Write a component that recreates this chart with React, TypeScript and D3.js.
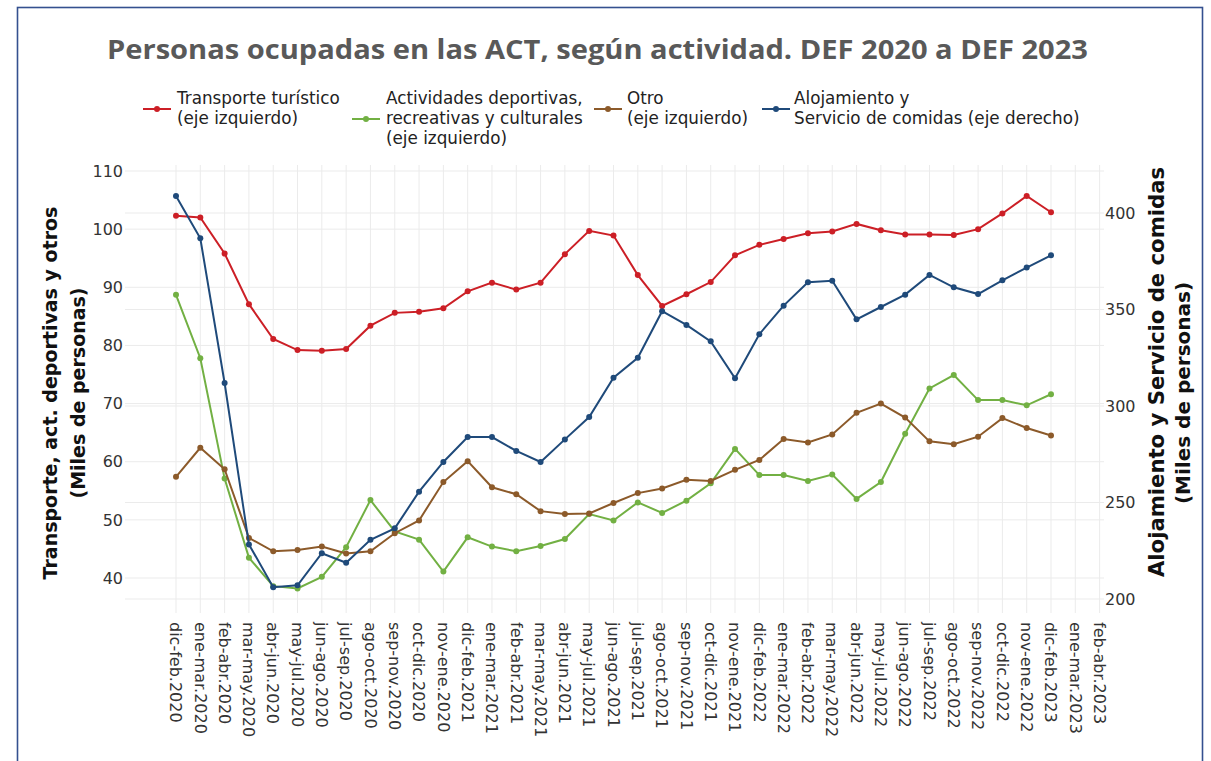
import React from "react";
import * as d3 from "d3";

const categories = [
  "dic-feb.2020","ene-mar.2020","feb-abr.2020","mar-may.2020","abr-jun.2020","may-jul.2020","jun-ago.2020","jul-sep.2020","ago-oct.2020","sep-nov.2020","oct-dic.2020","nov-ene.2020",
  "dic-feb.2021","ene-mar.2021","feb-abr.2021","mar-may.2021","abr-jun.2021","may-jul.2021","jun-ago.2021","jul-sep.2021","ago-oct.2021","sep-nov.2021","oct-dic.2021","nov-ene.2021",
  "dic-feb.2022","ene-mar.2022","feb-abr.2022","mar-may.2022","abr-jun.2022","may-jul.2022","jun-ago.2022","jul-sep.2022","ago-oct.2022","sep-nov.2022","oct-dic.2022","nov-ene.2022",
  "dic-feb.2023","ene-mar.2023","feb-abr.2023",
];

const transporte = [102.3, 102.0, 95.8, 87.1, 81.1, 79.2, 79.1, 79.4, 83.4, 85.6, 85.8, 86.4, 89.3, 90.8, 89.6, 90.8, 95.7, 99.7, 98.9, 92.1, 86.8, 88.8, 90.9, 95.5, 97.3, 98.3, 99.3, 99.6, 100.9, 99.8, 99.1, 99.1, 99.0, 100.0, 102.7, 105.7, 102.9];
const deportivas = [88.7, 77.8, 57.1, 43.5, 38.6, 38.2, 40.2, 45.3, 53.4, 48.0, 46.6, 41.1, 47.0, 45.4, 44.6, 45.5, 46.7, 51.0, 49.9, 53.0, 51.2, 53.3, 56.3, 62.2, 57.7, 57.7, 56.7, 57.8, 53.6, 56.5, 64.8, 72.6, 74.9, 70.6, 70.6, 69.7, 71.6];
const otro = [57.4, 62.4, 58.7, 46.9, 44.6, 44.8, 45.4, 44.2, 44.6, 47.7, 49.9, 56.5, 60.1, 55.6, 54.4, 51.5, 51.0, 51.1, 52.9, 54.6, 55.4, 56.9, 56.7, 58.6, 60.3, 63.9, 63.3, 64.7, 68.4, 70.0, 67.6, 63.5, 63.0, 64.3, 67.5, 65.8, 64.5];
const alojamiento = [408.8, 386.9, 311.9, 228.3, 206.1, 207.1, 223.7, 218.8, 230.7, 236.6, 255.6, 271.0, 283.9, 283.9, 276.7, 271.0, 282.7, 294.3, 314.7, 325.0, 349.1, 342.0, 333.5, 314.4, 337.2, 352.0, 364.1, 364.9, 344.9, 351.3, 357.7, 367.9, 361.5, 358.0, 365.1, 371.7, 378.1];

const leftTicks = [40, 50, 60, 70, 80, 90, 100, 110];
const rightTicks = [200, 250, 300, 350, 400];

const seriesNames = [
  ["Transporte turístico", "(eje izquierdo)"],
  ["Actividades deportivas,", "recreativas y culturales", "(eje izquierdo)"],
  ["Otro", "(eje izquierdo)"],
  ["Alojamiento y", "Servicio de comidas (eje derecho)"],
];
const colors = ["#cc1f26", "#72b043", "#8c5a2a", "#1f4a7a"];

const W = 1211;
const H = 761;
const plotLeft = 125;
const plotRight = 1104;
const plotTop = 165;
const plotBottom = 613;

const FONT = "'DejaVu Sans', Verdana, sans-serif";

export default function App() {
  const x = d3.scaleLinear().domain([0, 36]).range([176, 1051]);
  const yL = d3.scaleLinear().domain([40, 110]).range([578, 171]);
  const yR = d3.scaleLinear().domain([200, 400]).range([599, 213]);

  const series = [
    { data: transporte, y: yL },
    { data: deportivas, y: yL },
    { data: otro, y: yL },
    { data: alojamiento, y: yR },
  ];

  const legendX = [143, 352, 594, 762];
  const legendTextX = [177, 386, 627, 794];

  return (
    <div style={{ position: "fixed", left: 0, top: 0, width: W, height: H, background: "#fff" }}>
      <svg width={W} height={H} style={{ display: "block" }}>
        <rect x={0} y={0} width={W} height={H} fill="#fff" />
        <rect x={17.5} y={7.5} width={1185} height={800} fill="none" stroke="#34508f" strokeWidth={1.6} />

        <text x={597.5} y={59} textAnchor="middle" fontFamily="'Open Sans', sans-serif" fontWeight={700}
          fontSize={26} fill="#595959" textLength={981} lengthAdjust="spacingAndGlyphs">
          Personas ocupadas en las ACT, según actividad. DEF 2020 a DEF 2023
        </text>

        {/* legend */}
        {seriesNames.map((lines, i) => {
          const n = lines.length;
          const cy = 109 + ((n - 2) * 20) / 2;
          return (
            <g key={i}>
              <line x1={legendX[i]} x2={legendX[i] + 28} y1={cy} y2={cy} stroke={colors[i]} strokeWidth={2} />
              <circle cx={legendX[i] + 14} cy={cy} r={3} fill={colors[i]} />
              {lines.map((t, j) => (
                <text key={j} x={legendTextX[i]} y={104 + j * 20} fontFamily={FONT} fontSize={16.8} fill="#222">
                  {t}
                </text>
              ))}
            </g>
          );
        })}

        {/* grid */}
        <g stroke="#ebebeb" strokeWidth={1}>
          {categories.map((c, i) => (
            <line key={"v" + i} x1={x(i)} x2={x(i)} y1={plotTop} y2={plotBottom} />
          ))}
          {leftTicks.map((t) => (
            <line key={"l" + t} x1={plotLeft} x2={plotRight} y1={yL(t)} y2={yL(t)} />
          ))}
          {rightTicks.map((t) => (
            <line key={"r" + t} x1={plotLeft} x2={plotRight} y1={yR(t)} y2={yR(t)} />
          ))}
        </g>

        {/* left ticks */}
        {leftTicks.map((t) => (
          <text key={t} x={123} y={yL(t)} dy="0.36em" textAnchor="end" fontFamily={FONT} fontSize={16} fill="#333">
            {t}
          </text>
        ))}
        {/* right ticks */}
        {rightTicks.map((t) => (
          <text key={t} x={1105} y={yR(t)} dy="0.36em" textAnchor="start" fontFamily={FONT} fontSize={16} fill="#333">
            {t}
          </text>
        ))}
        {/* x ticks */}
        {categories.map((c, i) => (
          <text key={c} transform={`translate(${x(i)},622) rotate(90)`} dy="0.36em" textAnchor="start"
            fontFamily={FONT} fontSize={16} fill="#333">
            {c}
          </text>
        ))}

        {/* axis titles */}
        <g fontFamily={FONT} fontWeight={700} fill="#111" textAnchor="middle">
          <text fontSize={19} transform={`translate(57,393) rotate(-90)`}>Transporte, act. deportivas y otros</text>
          <text fontSize={19} transform={`translate(85,393) rotate(-90)`}>(Miles de personas)</text>
          <text fontSize={21.2} transform={`translate(1164,372) rotate(-90)`}>Alojamiento y Servicio de comidas</text>
          <text fontSize={20} transform={`translate(1190,393) rotate(-90)`}>(Miles de personas)</text>
        </g>

        {/* series */}
        {series.map((s, si) => {
          const line = d3.line<number>().x((d, i) => x(i)).y((d) => s.y(d));
          return (
            <g key={si}>
              <path d={line(s.data) || ""} fill="none" stroke={colors[si]} strokeWidth={2} />
              {s.data.map((d, i) => (
                <circle key={i} cx={x(i)} cy={s.y(d)} r={3} fill={colors[si]} />
              ))}
            </g>
          );
        })}
      </svg>
    </div>
  );
}
